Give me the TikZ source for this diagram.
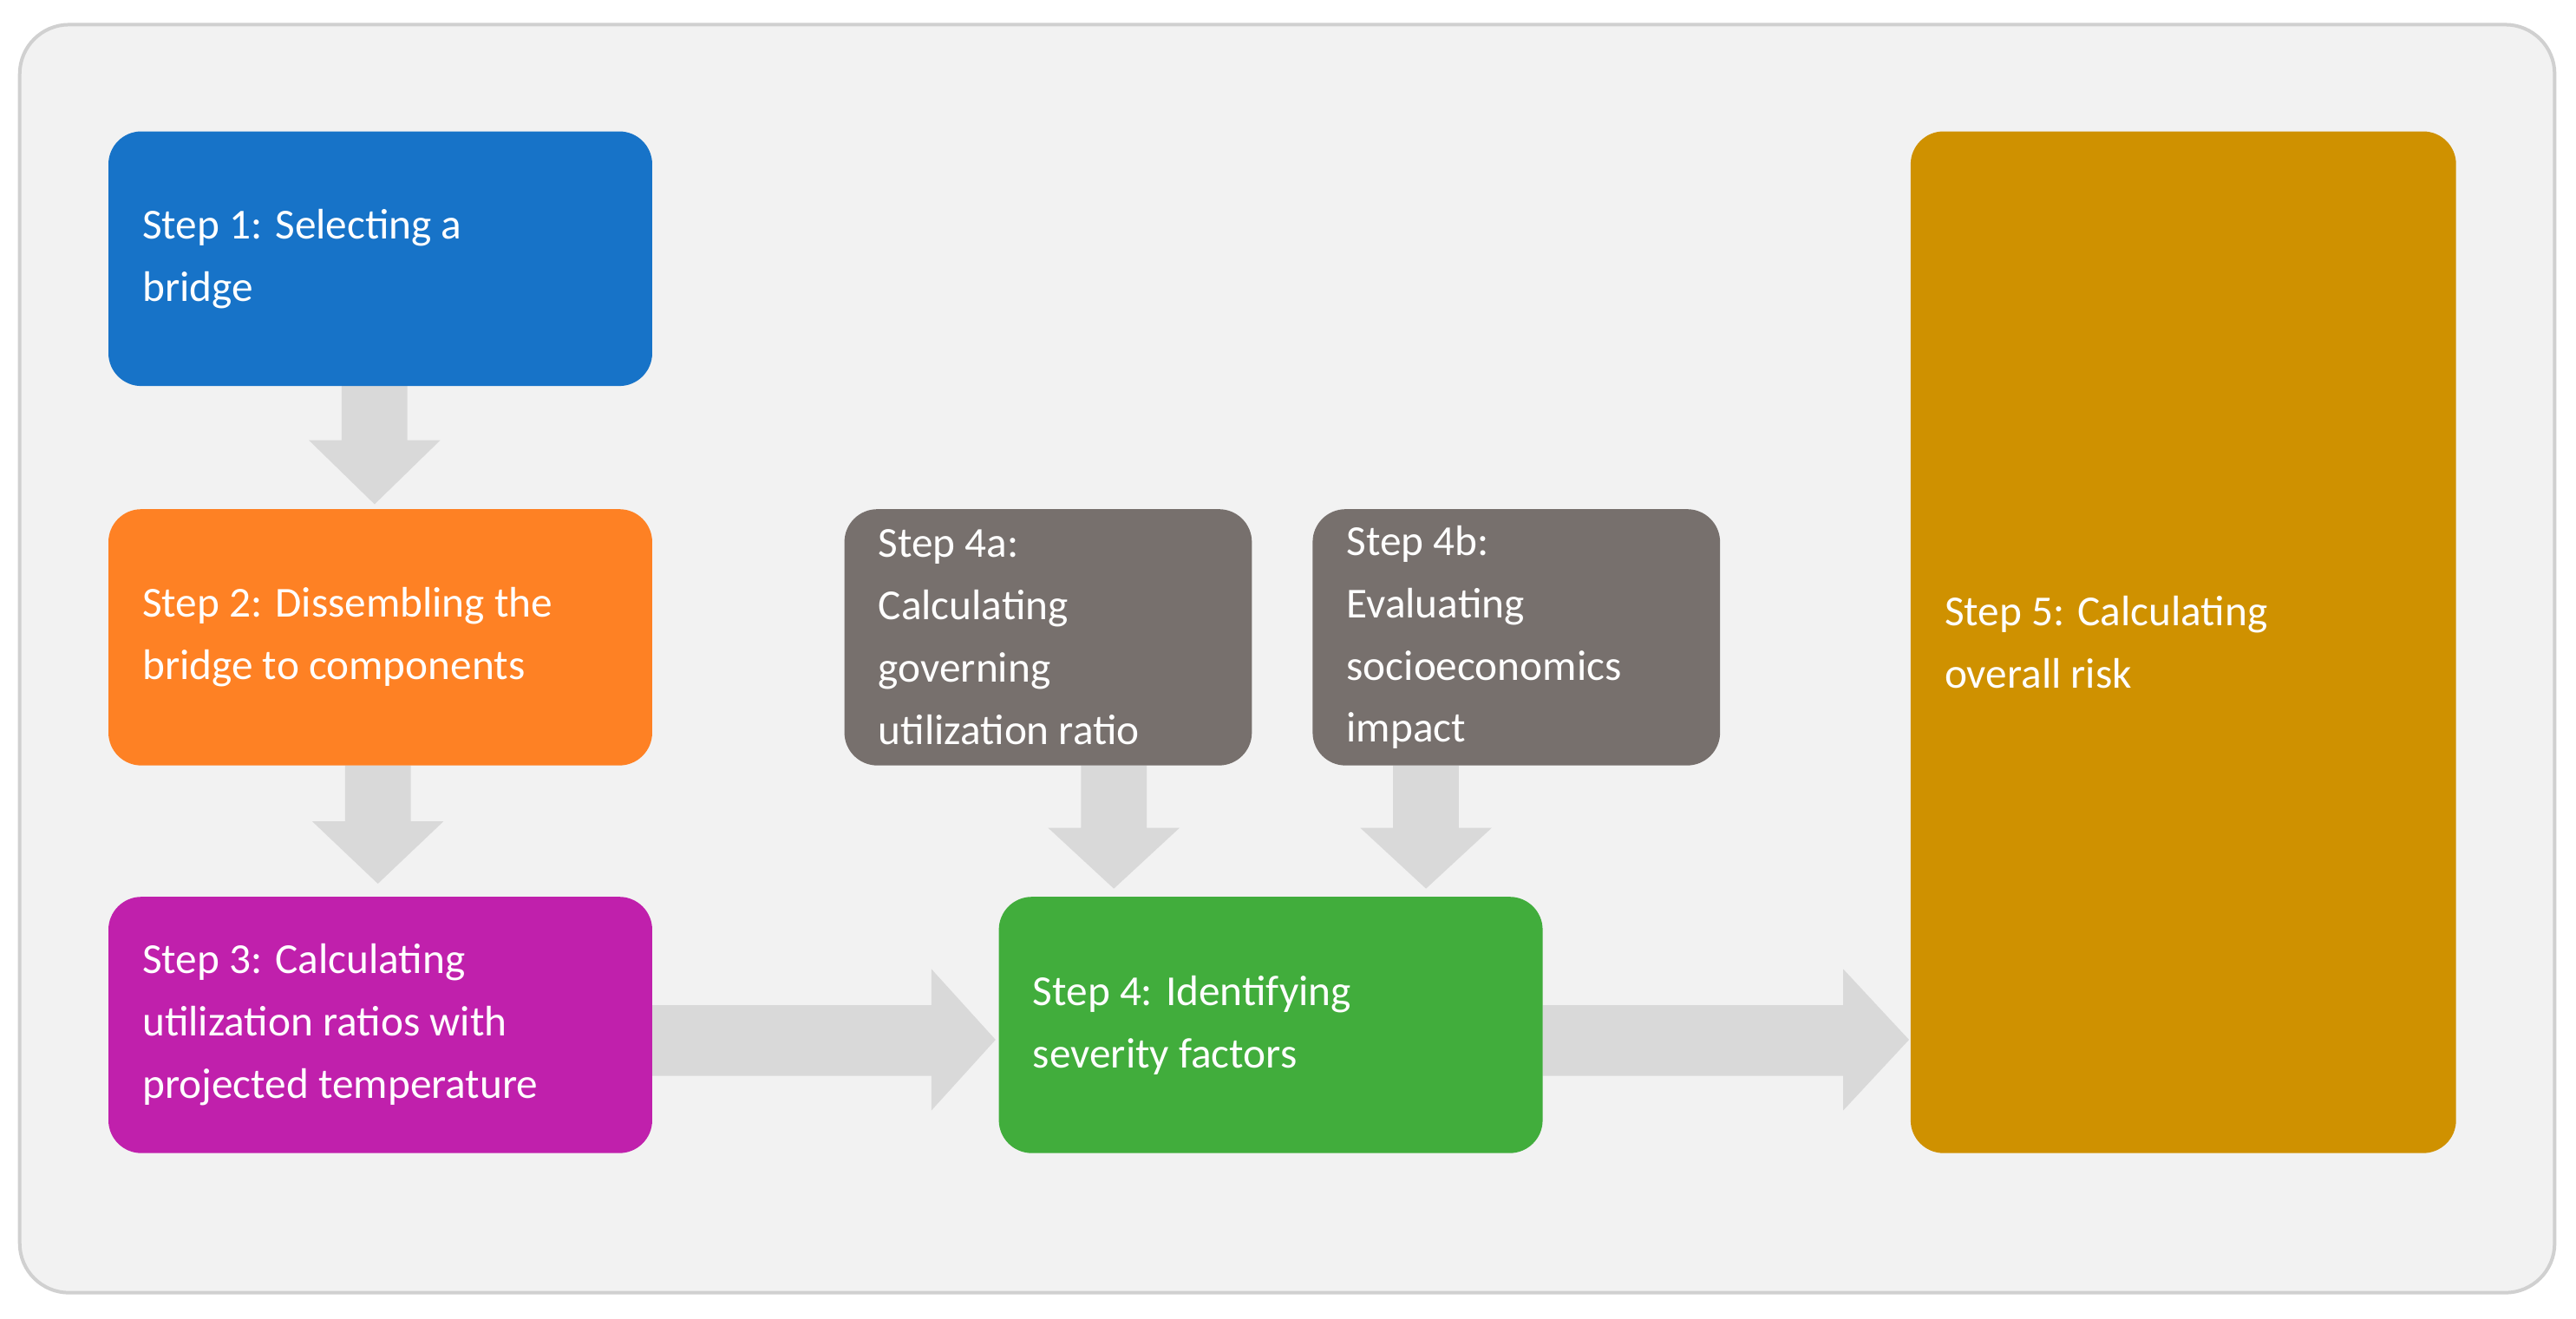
\documentclass[tikz,border=0pt]{standalone}
\usepackage{fontspec}
\setmainfont{Carlito}
\usetikzlibrary{calc}
\definecolor{bg}{HTML}{F2F2F2}
\definecolor{bd}{HTML}{D0D0D0}
\definecolor{ar}{HTML}{D9D9D9}
\definecolor{c1}{HTML}{1773C8}
\definecolor{c2}{HTML}{FE8124}
\definecolor{c3}{HTML}{C020AC}
\definecolor{c4}{HTML}{41AD3C}
\definecolor{cg}{HTML}{77706D}
\definecolor{c5}{HTML}{CF9100}
\tikzset{
 box/.style={rounded corners=0.2cm, text=white, font=\fontsize{7.4}{10.8}\selectfont, align=left, anchor=north west, inner sep=0pt, text width=#1},
 arr/.style={fill=ar, draw=none}
}
\newcommand{\bx}[7]{% name color x1 y1 x2 y2 text
 \fill[#2, rounded corners=0.2cm] (#3,#4) rectangle (#5,#6);
 \node[text=white, font=\fontsize{7.4}{10.8}\selectfont, align=left, anchor=west, inner sep=0pt] (#1) at ($(#3,#4)!0.5!(#3,#6)+(20,0)$) {#7};}
\begin{document}
\begin{tikzpicture}[x=0.01cm,y=-0.01cm]
\useasboundingbox (0,0) rectangle (1568,803);
\fill[white] (0,0) rectangle (1568,803);
\draw[bd, fill=bg, rounded corners=0.3cm, line width=0.6pt] (12,15) rectangle (1555,787);
% arrows
\fill[arr] (208,235) -- (248,235) -- (248,268) -- (268,268) -- (228,307) -- (188,268) -- (208,268) -- cycle;
\fill[arr] (210,466) -- (250,466) -- (250,500) -- (270,500) -- (230,538) -- (190,500) -- (210,500) -- cycle;
\fill[arr] (658,466) -- (698,466) -- (698,504) -- (718,504) -- (678,541) -- (638,504) -- (658,504) -- cycle;
\fill[arr] (848,466) -- (888,466) -- (888,504) -- (908,504) -- (868,541) -- (828,504) -- (848,504) -- cycle;
\fill[arr] (397,612) -- (567,612) -- (567,590) -- (606,633) -- (567,676) -- (567,655) -- (397,655) -- cycle;
\fill[arr] (939,612) -- (1122,612) -- (1122,590) -- (1162,633) -- (1122,676) -- (1122,655) -- (939,655) -- cycle;
% boxes
\bx{s1}{c1}{66}{80}{397}{235}{Step 1: Selecting a\\bridge}
\bx{s2}{c2}{66}{310}{397}{466}{Step 2: Dissembling the\\bridge to components}
\bx{s3}{c3}{66}{546}{397}{702}{Step 3: Calculating\\utilization ratios with\\projected temperature}
\bx{s4a}{cg}{514}{310}{762}{466}{Step 4a:\\Calculating\\governing\\utilization ratio}
\bx{s4b}{cg}{799}{310}{1047}{466}{Step 4b:\\Evaluating\\socioeconomics\\impact}
\bx{s4}{c4}{608}{546}{939}{702}{Step 4: Identifying\\severity factors}
\bx{s5}{c5}{1163}{80}{1495}{702}{Step 5: Calculating\\overall risk}
\end{tikzpicture}
\end{document}
